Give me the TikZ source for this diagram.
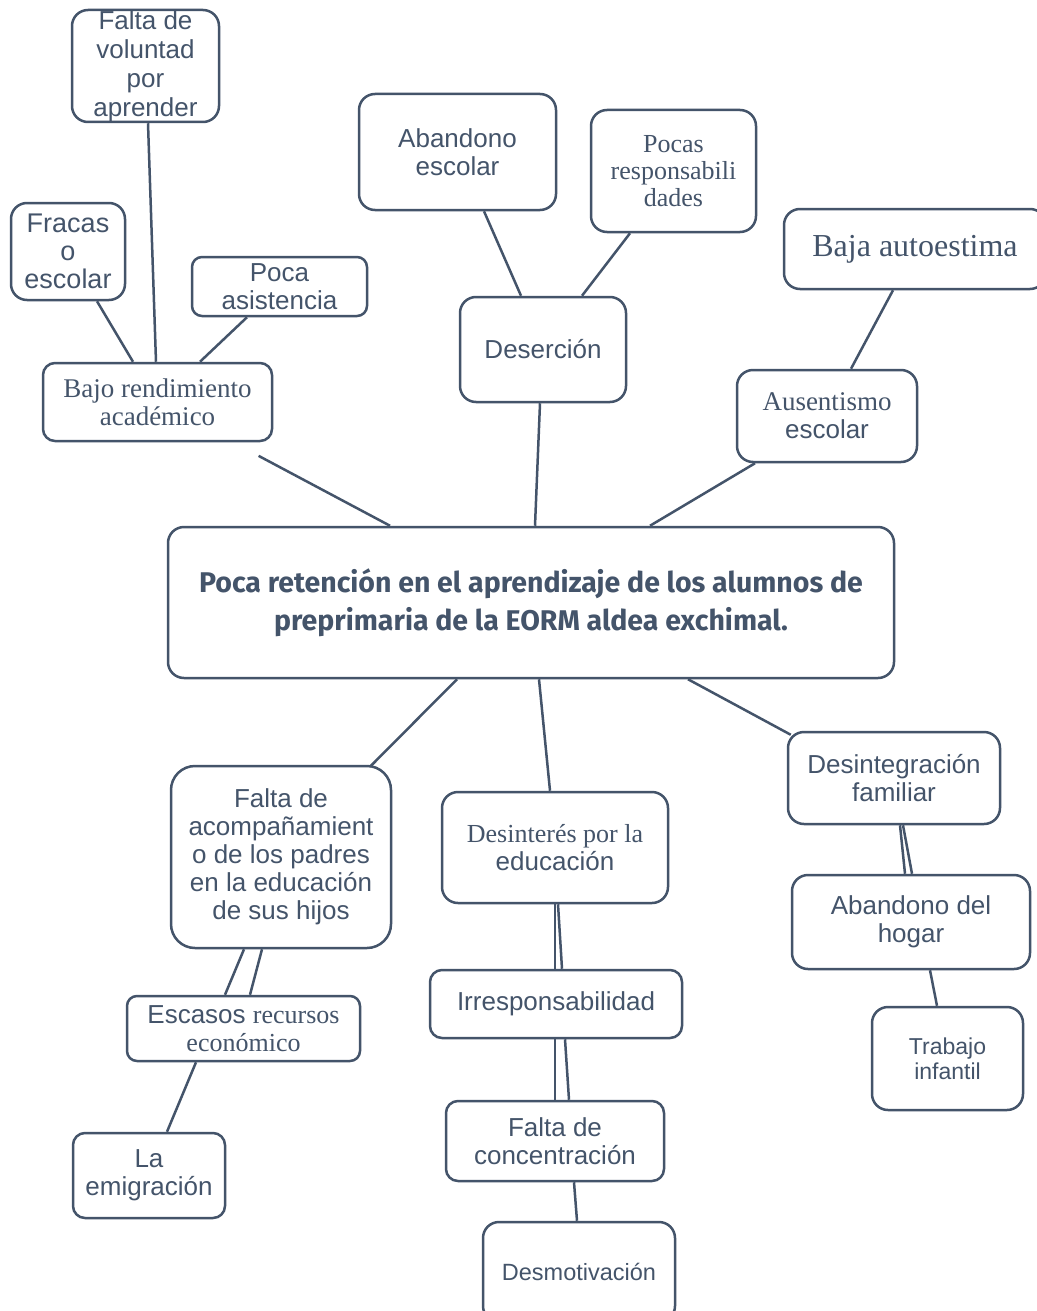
\documentclass[tikz,border=0pt]{standalone}
\usepackage{fontspec}
\setmainfont{Liberation Sans}
\newfontfamily\serifo{Liberation Serif}
\newfontfamily\titulo{Fira Sans}
\definecolor{gristexto}{HTML}{44546A}
\tikzset{
  caja/.style={draw=gristexto, line width=2.5pt, rounded corners=16pt, inner sep=0pt,
    align=center, text=gristexto, font=\fontsize{26}{28}\selectfont},
  linea/.style={draw=gristexto, line width=2.5pt},
}
\begin{document}
\begin{tikzpicture}[x=1pt,y=-1pt]
  \path[use as bounding box, fill=white] (0,0) rectangle (1036,1311);
%%
  % Node: centro
  \node[caja, minimum width=726pt, minimum height=151pt, font=\titulo\bfseries\fontsize{28.5}{38}\selectfont]
    (centro) at (531,602.5) {Poca retención en el aprendizaje de los alumnos de\\preprimaria de la EORM aldea exchimal.};
  % Node: Bajo rendimiento
  \node[caja, minimum width=229pt, minimum height=78pt, rounded corners=12pt, font=\serifo\fontsize{27}{28}\selectfont]
    (bajo) at (157.5,402) {Bajo rendimiento\\académico};
  \node[caja, minimum width=147pt, minimum height=112pt, font=\fontsize{26}{29}\selectfont]
    (voluntad) at (145.5,66) {Falta de\\voluntad\\por\\aprender};
  \node[caja, minimum width=114pt, minimum height=97pt, font=\fontsize{27}{28}\selectfont]
    (fracaso) at (68,251.5) {Fracas\\o\\escolar};
  \node[caja, minimum width=175pt, minimum height=59pt, rounded corners=10pt]
    (asistencia) at (279.5,286.5) {Poca\\asistencia};
  % Node: Deserción
  \node[caja, minimum width=166pt, minimum height=105pt] (desercion) at (543,349.5) {Deserción};
  \node[caja, minimum width=197pt, minimum height=116pt] (abandonoesc) at (457.5,152) {Abandono\\escolar};
  \node[caja, minimum width=165pt, minimum height=122pt, font=\serifo\fontsize{26}{27}\selectfont]
    (pocas) at (673.5,171) {Pocas\\responsabili\\dades};
  % Node: Ausentismo
  \node[caja, minimum width=180pt, minimum height=92pt] (ausentismo) at (827,416)
    {{\serifo\fontsize{27}{28}\selectfont Ausentismo}\\escolar};
  \node[caja, minimum width=262pt, minimum height=80pt, font=\serifo\fontsize{32}{34}\selectfont]
    (autoestima) at (915,249) {Baja autoestima};
  % Node: Falta de acompañamiento
  \node[caja, minimum width=220pt, minimum height=182pt, rounded corners=24pt]
    (acomp) at (281,857) {Falta de\\acompañamient\\o de los padres\\en la educación\\de sus hijos};
  \node[caja, minimum width=233pt, minimum height=65pt, rounded corners=10pt]
    (escasos) at (243.5,1028.5) {Escasos {\serifo recursos}\\{\serifo económico}};
  \node[caja, minimum width=152pt, minimum height=85pt, rounded corners=12pt]
    (emigracion) at (149,1175.5) {La\\emigración};
  % Node: Desinterés
  \node[caja, minimum width=226pt, minimum height=111pt] (desinteres) at (555,847.5)
    {{\serifo Desinterés por la}\\educación};
  \node[caja, minimum width=252pt, minimum height=68pt, rounded corners=12pt]
    (irresp) at (556,1004) {Irresponsabilidad};
  \node[caja, minimum width=218pt, minimum height=80pt, rounded corners=12pt]
    (concentr) at (555,1141) {Falta de\\concentración};
  \node[caja, minimum width=192pt, minimum height=100pt, font=\fontsize{23.5}{26}\selectfont]
    (desmotiv) at (579,1272) {Desmotivación};
  % Node: Desintegración familiar
  \node[caja, minimum width=212pt, minimum height=92pt] (desintegr) at (894,778) {Desintegración\\familiar};
  \node[caja, minimum width=238pt, minimum height=94pt] (hogar) at (911,922) {Abandono del\\hogar};
  \node[caja, minimum width=151pt, minimum height=103pt, font=\fontsize{23}{25}\selectfont]
    (trabajo) at (947.5,1058.5) {Trabajo\\infantil};
%%
  % Edge: voluntad, fracaso, asistencia -> bajo
  \draw[linea] ([xshift=2.5pt]voluntad.south) -- ([xshift=-1.5pt]bajo.north);
  \draw[linea] ([xshift=29pt]fracaso.south) -- ([xshift=-24.5pt]bajo.north);
  \draw[linea] ([xshift=-32.5pt]asistencia.south) -- ([xshift=42.5pt]bajo.north);
  % Edge: bajo -> centro
  \draw[linea, shorten <=29pt] (bajo) -- ([xshift=-141pt]centro.north);
  % Edge: abandonoesc, pocas -> desercion -> centro
  \draw[linea] ([xshift=26.5pt]abandonoesc.south) -- ([xshift=-22pt]desercion.north);
  \draw[linea] ([xshift=-43.5pt]pocas.south) -- ([xshift=39pt]desercion.north);
  \draw[linea] ([xshift=-3pt]desercion.south) -- ([xshift=4pt]centro.north);
  % Edge: autoestima -> ausentismo -> centro
  \draw[linea] ([xshift=-22pt]autoestima.south) -- ([xshift=24pt]ausentismo.north);
  \draw[linea] ([xshift=-72pt]ausentismo.south) -- ([xshift=119pt]centro.north);
  % Edge: centro -> acomp, desinteres, desintegr
  \draw[linea] ([xshift=-74pt]centro.south) -- ([xshift=89pt,yshift=-2pt]acomp.north);
  \draw[linea] ([xshift=8pt]centro.south) -- ([xshift=-5pt]desinteres.north);
  \draw[linea] ([xshift=157pt]centro.south) -- ([xshift=4pt,yshift=-4pt]desintegr.north west);
  % Edge: acomp -> escasos -> emigracion
  \draw[linea] ([xshift=-37pt]acomp.south) -- ([xshift=-18.5pt]escasos.north);
  \draw[linea] ([xshift=-19pt]acomp.south) -- ([xshift=6.5pt]escasos.north);
  \draw[linea] ([xshift=-47.5pt]escasos.south) -- ([xshift=18pt]emigracion.north);
  % Edge: desinteres -> irresp -> concentr -> desmotiv
  \draw[linea] (desinteres.south) -- ([xshift=-1pt]irresp.north);
  \draw[linea] ([xshift=3pt]desinteres.south) -- ([xshift=6pt]irresp.north);
  \draw[linea] ([xshift=-1pt]irresp.south) -- (concentr.north);
  \draw[linea] ([xshift=9pt]irresp.south) -- ([xshift=14pt]concentr.north);
  \draw[linea] ([xshift=19pt]concentr.south) -- ([xshift=-2pt]desmotiv.north);
  % Edge: desintegr -> hogar -> trabajo
  \draw[linea] ([xshift=6pt]desintegr.south) -- ([xshift=-6pt]hogar.north);
  \draw[linea] ([xshift=9pt]desintegr.south) -- ([xshift=1pt]hogar.north);
  \draw[linea] ([xshift=19pt]hogar.south) -- ([xshift=-10.5pt]trabajo.north);
%
\end{tikzpicture}
\end{document}
